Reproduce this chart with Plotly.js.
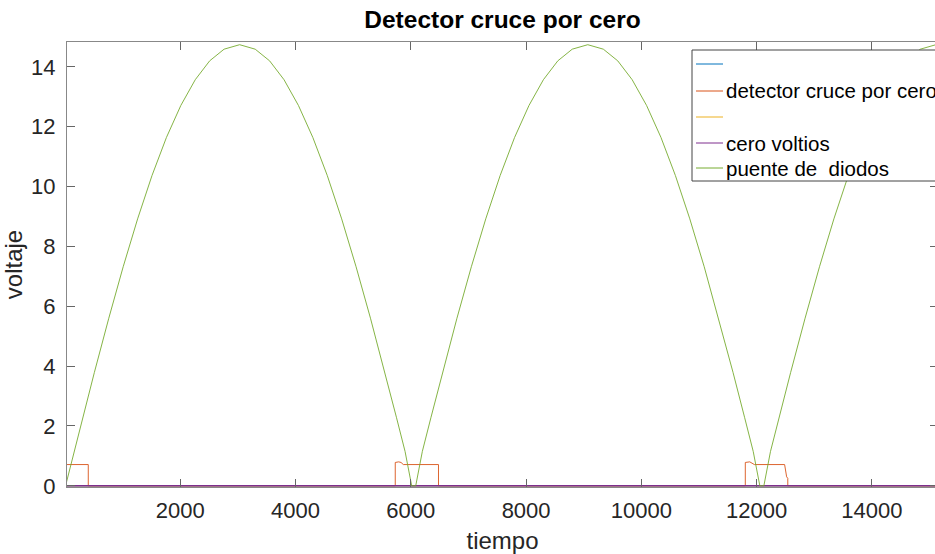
<!DOCTYPE html>
<html>
<head>
<meta charset="utf-8">
<script src="https://cdn.plot.ly/plotly-3.0.1.min.js"></script>
<style>
html, body { margin: 0; padding: 0; overflow: hidden; background: #fff; }
#chart { width: 1000px; height: 554px; }
</style>
</head>
<body>
<div id="chart"></div>
<script>
// Series
var bridgeX = [10, 160, 310, 510, 760, 1010, 1260, 1510, 1760, 2010, 2260, 2510, 2760, 3030,
  3300, 3550, 3800, 4050, 4300, 4550, 4800, 5050, 5300, 5550, 5750, 5900, 6015, 6085,
  6200, 6350, 6550, 6800, 7050, 7300, 7550, 7800, 8050, 8300, 8550, 8800, 9070,
  9340, 9590, 9840, 10090, 10340, 10590, 10840, 11090, 11340, 11590, 11790, 11940, 12055, 12125,
  12240, 12390, 12590, 12840, 13090, 13340, 13590, 13840, 14090, 14340, 14590, 14840, 15110, 15380];
var bridgeY = [0, 1.15, 2.29, 3.79, 5.60, 7.32, 8.92, 10.37, 11.64, 12.71, 13.57, 14.20, 14.59, 14.74,
  14.59, 14.20, 13.57, 12.71, 11.64, 10.37, 8.92, 7.32, 5.60, 3.79, 2.29, 1.15, 0, 0,
  1.15, 2.29, 3.79, 5.60, 7.32, 8.92, 10.37, 11.64, 12.71, 13.57, 14.20, 14.59, 14.74,
  14.59, 14.20, 13.57, 12.71, 11.64, 10.37, 8.92, 7.32, 5.60, 3.79, 2.29, 1.15, 0, 0,
  1.15, 2.29, 3.79, 5.60, 7.32, 8.92, 10.37, 11.64, 12.71, 13.57, 14.20, 14.59, 14.74, 14.59];

var detX = [35, 404, 404, 5730, 5730, 5790, 5830, 5870, 6480, 6480,
  11803, 11803, 11880, 11960, 12485, 12520, 12540, 12540, 15400];
var detY = [0.71, 0.71, 0, 0, 0.78, 0.80, 0.78, 0.71, 0.71, 0,
  0, 0.78, 0.80, 0.71, 0.71, 0.30, 0.25, 0, 0];

var zeroX = [35, 15400];
var zeroY = [0, 0];

var names = ['', 'detector cruce por cero', '', 'cero voltios', 'puente de  diodos'];
var colors = ['#0072BD', '#D95319', '#EDB120', '#7E2F8E', '#77AC30'];
var xTicks = [2000, 4000, 6000, 8000, 10000, 12000, 14000];
var yTicks = [0, 2, 4, 6, 8, 10, 12, 14];

var font = 'Liberation Sans, Arial, Helvetica, sans-serif';

var traces = [
  {x: zeroX, y: zeroY, line: {color: colors[0], width: 1}},
  {x: detX, y: detY, line: {color: colors[1], width: 0.9}},
  {x: zeroX, y: zeroY, line: {color: colors[2], width: 1}},
  {x: zeroX, y: zeroY, line: {color: colors[3], width: 1.5}},
  {x: bridgeX, y: bridgeY, line: {color: colors[4], width: 0.9}}
].map(function (t, i) { t.type = 'scatter'; t.mode = 'lines'; t.name = names[i]; t.showlegend = false; return t; });

// Plot area geometry (pixels) used for legend placement in paper coords
var L = 67, W = 871, T = 42, H = 445;
function px(x) { return (x - L) / W; }
function py(y) { return (T + H - y) / H; }

var shapes = [{type: 'rect', xref: 'paper', yref: 'paper', x0: px(692), x1: px(960), y0: py(181), y1: py(50),
  fillcolor: '#fff', line: {color: '#444', width: 1}, layer: 'above'}];
var annotations = [];
var rowY = [64, 91, 117, 143, 168];
names.forEach(function (n, i) {
  shapes.push({type: 'line', xref: 'paper', yref: 'paper', x0: px(696), x1: px(723), y0: py(rowY[i]), y1: py(rowY[i]),
    line: {color: colors[i], width: 1}, layer: 'above'});
  if (n) annotations.push({xref: 'paper', yref: 'paper', x: px(725), y: py(rowY[i]), xanchor: 'left', yanchor: 'middle',
    text: n, showarrow: false, font: {family: font, size: 20.5, color: '#000'}, borderpad: 0});
});

var layout = {
  width: 1000, height: 554,
  margin: {l: 67, r: 62, t: 42, b: 67},
  paper_bgcolor: '#fff', plot_bgcolor: '#fff',
  font: {family: font, size: 22, color: '#262626'},
  showlegend: false,
  title: {text: 'Detector cruce por cero', font: {family: font, size: 24.5, color: '#000', weight: 'bold'},
          x: 0.5, xref: 'paper', y: 1 - 19 / 554, yref: 'container', yanchor: 'middle'},
  xaxis: {
    range: [35, 15146], tickvals: xTicks, ticktext: xTicks.map(String),
    ticks: 'inside', ticklen: 8, tickcolor: '#666', showline: true, linecolor: '#888', linewidth: 1,
    mirror: 'ticks', showgrid: false, zeroline: false, ticklabelstandoff: 4,
    title: {text: 'tiempo', font: {size: 24}, standoff: 9}
  },
  yaxis: {
    range: [-0.04, 14.83], tickvals: yTicks, ticktext: yTicks.map(String),
    ticks: 'inside', ticklen: 8, tickcolor: '#666', showline: true, linecolor: '#888', linewidth: 1,
    mirror: 'ticks', showgrid: false, zeroline: false, ticklabelstandoff: 6,
    title: {text: 'voltaje', font: {size: 24}, standoff: 3}
  },
  shapes: shapes,
  annotations: annotations
};

Plotly.newPlot('chart', traces, layout, {displayModeBar: false, staticPlot: true});
</script>
</body>
</html>
